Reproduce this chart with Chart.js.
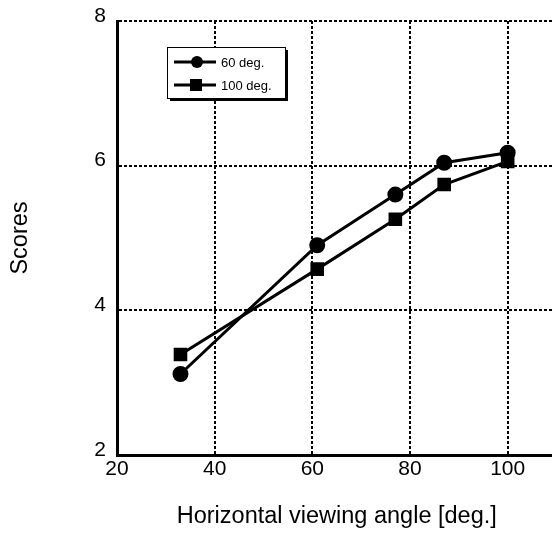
<!DOCTYPE html>
<html>
<head>
<meta charset="utf-8">
<script src="https://cdn.jsdelivr.net/npm/chart.js@4/dist/chart.umd.min.js"></script>
<style>
  html, body { margin: 0; padding: 0; background: #fff; overflow: hidden; }
  #wrap { width: 567px; height: 533px; }
</style>
</head>
<body>
<div id="wrap"><canvas id="chart" width="567" height="533"></canvas></div>
<script>
const angles = [33, 61, 77, 87, 100];
const scores60 = [3.12, 4.9, 5.6, 6.04, 6.18];
const scores100 = [3.39, 4.57, 5.26, 5.74, 6.06];
const seriesNames = ['60 deg.', '100 deg.'];
const xTicks = [20, 40, 60, 80, 100];
const yTicks = [2, 4, 6, 8];
const xTitle = 'Horizontal viewing angle [deg.]';
const yTitle = 'Scores';

const FONT = 'Liberation Sans, Arial, sans-serif';

// legend box drawn inside the plot, with a little shadow
const boxLegend = {
    id: 'boxLegend',
    afterDraw(chart) {
        const ctx = chart.ctx;
        const x = 167, y = 47, w = 118, h = 51;
        ctx.save();
        ctx.fillStyle = '#000';
        ctx.fillRect(x + 3, y + 3, w, h);
        ctx.fillStyle = '#fff';
        ctx.fillRect(x, y, w, h);
        ctx.strokeStyle = '#000';
        ctx.lineWidth = 1;
        ctx.strokeRect(x + 0.5, y + 0.5, w, h);
        chart.data.datasets.forEach((ds, i) => {
            const ly = y + 15 + i * 23;
            ctx.strokeStyle = '#000';
            ctx.lineWidth = 3;
            ctx.beginPath();
            ctx.moveTo(x + 7, ly);
            ctx.lineTo(x + 49, ly);
            ctx.stroke();
            ctx.fillStyle = '#000';
            if (ds.pointStyle === 'rect') {
                ctx.fillRect(x + 23, ly - 6, 12, 12);
            } else {
                ctx.beginPath();
                ctx.arc(x + 30, ly, 6, 0, Math.PI * 2);
                ctx.fill();
            }
            ctx.font = '13px ' + FONT;
            ctx.textBaseline = 'middle';
            ctx.fillText(ds.label, x + 54, ly + 1);
        });
        ctx.restore();
    }
};

const ctx = document.getElementById('chart').getContext('2d');
const chart = new Chart(ctx, {
    type: 'line',
    data: {
        datasets: [{
            label: seriesNames[0],
            data: angles.map((a, i) => ({x: a, y: scores60[i]})),
            borderColor: '#000',
            backgroundColor: '#000',
            borderWidth: 3,
            pointStyle: 'circle',
            pointRadius: 6.5,
            tension: 0
        },
        {
            label: seriesNames[1],
            data: angles.map((a, i) => ({x: a, y: scores100[i]})),
            borderColor: '#000',
            backgroundColor: '#000',
            borderWidth: 3,
            pointStyle: 'rect',
            pointRadius: 7.5,
            tension: 0
        }]
    },
    options: {
        responsive: false,
        animation: false,
        layout: { padding: { top: 21, right: 4, left: 0, bottom: 0 } },
        plugins: { legend: { display: false }, tooltip: { enabled: false } },
        scales: {
            x: {
                type: 'linear',
                min: 20,
                max: 110,
                afterFit: (s) => { s.height = 78; },
                afterBuildTicks: (s) => { s.ticks = xTicks.map(v => ({value: v})); },
                ticks: {
                    autoSkip: false,
                    maxRotation: 0,
                    color: '#000',
                    font: { family: FONT, size: 21 },
                    padding: 2
                },
                grid: {
                    color: '#000',
                    lineWidth: 2,
                    drawTicks: false
                },
                border: { color: '#000', width: 3, dash: [3, 2] },
                title: {
                    display: true,
                    text: xTitle,
                    color: '#000',
                    font: { family: FONT, size: 23.5 },
                    padding: { top: 4, bottom: 2 }
                }
            },
            y: {
                min: 2,
                max: 8,
                afterFit: (s) => { s.width = 117; s.paddingTop = 0; s.paddingBottom = 0; },
                afterBuildTicks: (s) => { s.ticks = yTicks.map(v => ({value: v})); },
                ticks: {
                    color: '#000',
                    font: { family: FONT, size: 21 },
                    padding: 11,
                    labelOffset: -5
                },
                grid: {
                    color: '#000',
                    lineWidth: 2,
                    drawTicks: false
                },
                border: { color: '#000', width: 3, dash: [3, 2] },
                title: {
                    display: true,
                    text: yTitle,
                    color: '#000',
                    font: { family: FONT, size: 23.5 },
                    padding: { top: 6, bottom: 0 }
                }
            }
        }
    },
    plugins: [boxLegend]
});
</script>
</body>
</html>
